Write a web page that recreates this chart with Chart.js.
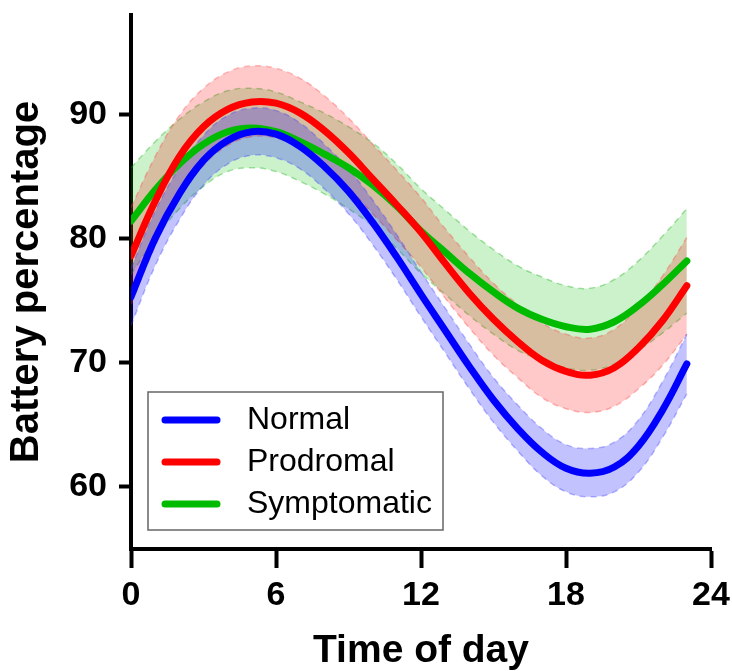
<!DOCTYPE html>
<html>
<head>
<meta charset="utf-8">
<script src="https://cdn.jsdelivr.net/npm/chart.js@4.4.1/dist/chart.umd.min.js"></script>
<style>
  body { margin: 0; background: #fff; }
  canvas { display: block; }
</style>
</head>
<body>
<canvas id="batteryChart" width="732" height="671"></canvas>
<script>
const hours = [0, 1, 2, 3, 4, 5, 6, 7, 8, 9, 10, 11, 12, 13, 14, 15, 16, 17, 18, 19, 20, 21, 22, 23];

const groups = ["Normal", "Prodromal", "Symptomatic"];

const normalMean = [75.3, 80.0, 83.6, 86.3, 87.9, 88.6, 88.4, 87.4, 85.8, 83.8, 81.3, 78.5, 75.5, 72.6, 69.7, 67.0, 64.7, 62.8, 61.5, 61.1, 61.6, 63.3, 66.2, 69.9];
const normalUpper = [77.6, 82.2, 85.7, 88.3, 89.9, 90.5, 90.3, 89.3, 87.6, 85.6, 83.1, 80.3, 77.3, 74.4, 71.5, 68.8, 66.6, 64.7, 63.4, 63.1, 63.6, 65.4, 68.5, 72.3];
const normalLower = [73.0, 77.8, 81.5, 84.3, 86.0, 86.7, 86.5, 85.6, 84.0, 82.0, 79.5, 76.7, 73.7, 70.8, 67.9, 65.2, 62.9, 60.9, 59.6, 59.2, 59.6, 61.2, 64.0, 67.5];

const prodromalMean = [78.6, 83.0, 86.6, 89.0, 90.4, 91.0, 90.9, 90.1, 88.7, 86.9, 84.8, 82.7, 80.5, 78.0, 75.6, 73.5, 71.7, 70.2, 69.3, 69.0, 69.6, 71.2, 73.4, 76.2];
const prodromalUpper = [82.5, 86.6, 89.9, 92.1, 93.4, 93.9, 93.7, 92.9, 91.5, 89.7, 87.6, 85.5, 83.3, 80.8, 78.5, 76.4, 74.7, 73.2, 72.3, 72.0, 72.7, 74.5, 77.0, 80.1];
const prodromalLower = [74.7, 79.4, 83.3, 85.9, 87.5, 88.2, 88.1, 87.3, 85.9, 84.1, 82.0, 79.9, 77.7, 75.2, 72.8, 70.6, 68.8, 67.2, 66.3, 66.0, 66.5, 67.9, 69.8, 72.3];

const symptomaticMean = [81.4, 83.9, 86.0, 87.6, 88.6, 88.9, 88.6, 87.8, 86.8, 85.7, 84.3, 82.6, 80.6, 78.9, 77.2, 75.7, 74.4, 73.5, 72.9, 72.7, 73.3, 74.6, 76.3, 78.2];
const symptomaticUpper = [85.7, 87.8, 89.6, 91.0, 91.9, 92.1, 91.8, 91.0, 90.1, 89.0, 87.7, 86.0, 84.0, 82.3, 80.6, 79.1, 77.8, 76.9, 76.2, 76.0, 76.7, 78.2, 80.2, 82.4];
const symptomaticLower = [77.1, 80.0, 82.4, 84.2, 85.4, 85.7, 85.4, 84.6, 83.6, 82.4, 81.0, 79.2, 77.2, 75.5, 73.8, 72.3, 71.0, 70.2, 69.6, 69.4, 69.9, 71.0, 72.4, 74.0];

const xTicks = [0, 6, 12, 18, 24];
const yTicks = [60, 70, 80, 90];

const FONT = "'Liberation Sans', Arial, Helvetica, sans-serif";

const toPoints = (arr) => arr.map((v, i) => ({ x: hours[i], y: v }));

const meanLine = (label, values, color) => ({
  label: label,
  data: toPoints(values),
  borderColor: color,
  backgroundColor: color,
  borderWidth: 7,
  borderCapStyle: "round",
  pointRadius: 0,
  tension: 0.4,
  fill: false,
});

const bandEdge = (values, lineColor, fillColor) => ({
  label: "",
  data: toPoints(values),
  borderColor: lineColor,
  backgroundColor: fillColor || "transparent",
  borderWidth: 1.5,
  borderDash: [6, 5],
  pointRadius: 0,
  tension: 0.4,
  fill: fillColor ? "+1" : false,
});

// first dataset is drawn on top
const datasets = [
  meanLine(groups[1], prodromalMean, "#ff0000"),
  meanLine(groups[0], normalMean, "#0000ff"),
  meanLine(groups[2], symptomaticMean, "#00bb00"),
  bandEdge(normalUpper, "rgba(60,60,255,0.35)", "rgba(0,0,255,0.24)"),
  bandEdge(normalLower, "rgba(60,60,255,0.35)"),
  bandEdge(prodromalUpper, "rgba(255,60,60,0.35)", "rgba(255,0,0,0.21)"),
  bandEdge(prodromalLower, "rgba(255,60,60,0.35)"),
  bandEdge(symptomaticUpper, "rgba(0,170,0,0.35)", "rgba(0,190,0,0.2)"),
  bandEdge(symptomaticLower, "rgba(0,170,0,0.35)"),
];

const legendBox = {
  id: "legendBox",
  afterDatasetsDraw(chart) {
    const ctx = chart.ctx;
    const entries = [datasets[1], datasets[0], datasets[2]];
    ctx.save();
    ctx.fillStyle = "#fff";
    ctx.fillRect(148, 392, 295, 138);
    ctx.strokeStyle = "#666";
    ctx.lineWidth = 1.5;
    ctx.strokeRect(148, 392, 295, 138);
    entries.forEach((ds, i) => {
      const y = 420 + i * 42;
      ctx.beginPath();
      ctx.strokeStyle = ds.borderColor;
      ctx.lineWidth = 7;
      ctx.lineCap = "round";
      ctx.moveTo(165, y);
      ctx.lineTo(217, y);
      ctx.stroke();
      ctx.fillStyle = "#000";
      ctx.font = "32px " + FONT;
      ctx.textBaseline = "middle";
      ctx.textAlign = "left";
      ctx.fillText(ds.label, 247, y);
    });
    ctx.restore();
  },
};

// drop the label padding chart.js reserves, so the plot area is exact
const noPad = (s) => {
  s.paddingTop = 0;
  s.paddingBottom = 0;
  s.paddingLeft = 0;
  s.paddingRight = 0;
};

const ctx = document.getElementById("batteryChart").getContext("2d");
const batteryChart = new Chart(ctx, {
  type: "line",
  data: { datasets: datasets },
  options: {
    responsive: false,
    animation: false,
    layout: { padding: { left: 0, top: 15, right: 21, bottom: 0 } },
    plugins: {
      legend: { display: false },
      tooltip: { enabled: false },
    },
    scales: {
      x: {
        type: "linear",
        min: 0,
        max: 24,
        afterBuildTicks: (s) => { s.ticks = xTicks.map((v) => ({ value: v })); },
        afterFit: (s) => { s.height = 122; noPad(s); },
        ticks: {
          color: "#000",
          padding: 7,
          maxRotation: 0,
          autoSkip: false,
          font: { family: FONT, size: 34, weight: "bold" },
        },
        grid: { drawOnChartArea: false, drawTicks: true, tickLength: 19, tickWidth: 4, tickColor: "#000" },
        border: { display: true, color: "#000", width: 4 },
        title: {
          display: true,
          text: "Time of day",
          color: "#000",
          padding: { top: 0, bottom: 0 },
          font: { family: FONT, size: 39, weight: "bold", lineHeight: 1.0 },
        },
      },
      y: {
        type: "linear",
        min: 55,
        max: 98,
        afterBuildTicks: (s) => { s.ticks = yTicks.map((v) => ({ value: v })); },
        afterFit: (s) => { s.width = 131; noPad(s); },
        ticks: {
          color: "#000",
          padding: 12,
          font: { family: FONT, size: 34, weight: "bold" },
        },
        grid: { drawOnChartArea: false, drawTicks: true, tickLength: 12, tickWidth: 4, tickColor: "#000" },
        border: { display: true, color: "#000", width: 4 },
        title: {
          display: true,
          text: "Battery percentage",
          color: "#000",
          padding: { top: 3, bottom: 0 },
          font: { family: FONT, size: 40, weight: "bold" },
        },
      },
    },
  },
  plugins: [legendBox],
});
</script>
</body>
</html>
